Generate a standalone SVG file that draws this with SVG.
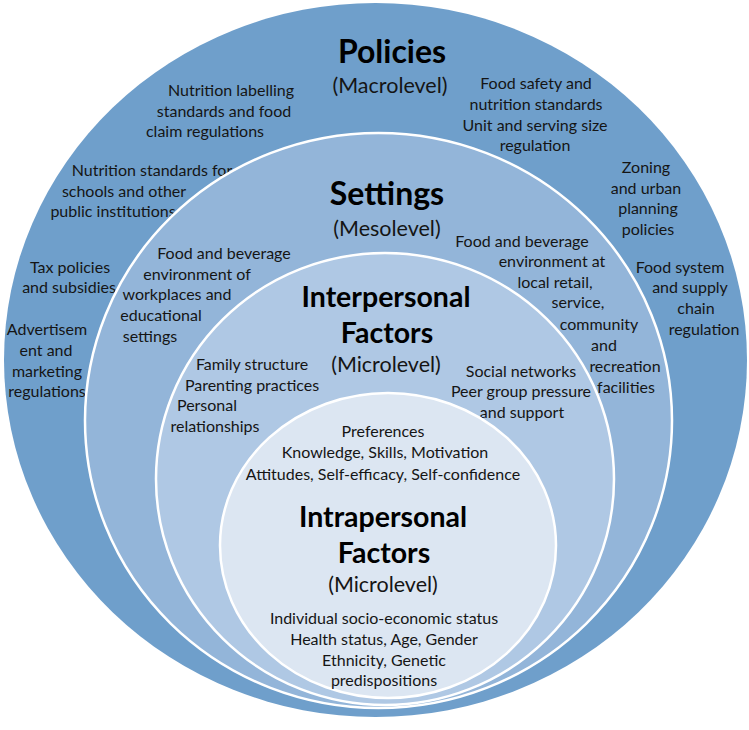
<svg xmlns="http://www.w3.org/2000/svg" width="749" height="730" viewBox="0 0 749 730">
<style>
.t{font-family:Lato,"Open Sans","Liberation Sans",sans-serif;font-size:16px;fill:#151515;text-anchor:middle}
.h{font-family:Lato,"Open Sans","Liberation Sans",sans-serif;font-weight:bold;fill:#000;text-anchor:middle}
.h1{font-size:32px}
.h2{font-size:28.5px}
.s{font-family:Lato,"Open Sans","Liberation Sans",sans-serif;font-size:21.5px;fill:#151515;text-anchor:middle}
.ring{stroke:#fff;stroke-width:2.5}
</style>
<rect width="749" height="730" fill="#fff"/>
<g id="policies">
<ellipse cx="375.5" cy="360" rx="371.5" ry="357" fill="#6f9fcb"/>
<text class="h h1" x="392" y="63">Policies</text>
<text class="s" x="390" y="93">(Macrolevel)</text>
<text class="t" x="231" y="96">Nutrition labelling</text>
<text class="t" x="224" y="117">standards and food</text>
<text class="t" x="205" y="137">claim regulations</text>
<text class="t" x="536" y="89">Food safety and</text>
<text class="t" x="536" y="110">nutrition standards</text>
<text class="t" x="535" y="131">Unit and serving size</text>
<text class="t" x="535" y="151">regulation</text>
<text class="t" x="152" y="176">Nutrition standards for</text>
<text class="t" x="124" y="197">schools and other</text>
<text class="t" x="113" y="217">public institutions</text>
<text class="t" x="646" y="173">Zoning</text>
<text class="t" x="646" y="194">and urban</text>
<text class="t" x="648" y="214">planning</text>
<text class="t" x="648" y="235">policies</text>
<text class="t" x="70" y="273">Tax policies</text>
<text class="t" x="69" y="293">and subsidies</text>
<text class="t" x="680" y="273">Food system</text>
<text class="t" x="690" y="293">and supply</text>
<text class="t" x="696" y="314">chain</text>
<text class="t" x="704" y="335">regulation</text>
<text class="t" x="47" y="335">Advertisem</text>
<text class="t" x="46" y="356">ent and</text>
<text class="t" x="47" y="377">marketing</text>
<text class="t" x="47" y="397">regulations</text>
</g>
<g id="settings">
<ellipse class="ring" cx="378.5" cy="420.5" rx="293.5" ry="287.5" fill="#93b5d9"/>
<text class="h h1" x="387" y="205">Settings</text>
<text class="s" x="387" y="236">(Mesolevel)</text>
<text class="t" x="224" y="259">Food and beverage</text>
<text class="t" x="197" y="280">environment of</text>
<text class="t" x="177" y="300">workplaces and</text>
<text class="t" x="161" y="321">educational</text>
<text class="t" x="150" y="342">settings</text>
<text class="t" x="522" y="247">Food and beverage</text>
<text class="t" x="552" y="267">environment at</text>
<text class="t" x="555" y="288">local retail,</text>
<text class="t" x="578" y="308">service,</text>
<text class="t" x="599" y="330">community</text>
<text class="t" x="604" y="351">and</text>
<text class="t" x="625" y="372">recreation</text>
<text class="t" x="626" y="393">facilities</text>
</g>
<g id="interpersonal">
<ellipse class="ring" cx="385" cy="479" rx="229" ry="226" fill="#afc8e4"/>
<text class="h h2" x="386" y="307">Interpersonal</text>
<text class="h h2" x="387" y="343">Factors</text>
<text class="s" x="386" y="372">(Microlevel)</text>
<text class="t" x="252" y="370">Family structure</text>
<text class="t" x="252" y="391">Parenting practices</text>
<text class="t" x="207" y="411">Personal</text>
<text class="t" x="215" y="432">relationships</text>
<text class="t" x="521" y="377">Social networks</text>
<text class="t" x="521" y="397">Peer group pressure</text>
<text class="t" x="522" y="418">and support</text>
</g>
<g id="intrapersonal">
<ellipse class="ring" cx="388" cy="545.5" rx="168" ry="152.5" fill="#dce6f2"/>
<text class="t" x="383" y="437">Preferences</text>
<text class="t" x="385" y="458">Knowledge, Skills, Motivation</text>
<text class="t" x="383" y="480">Attitudes, Self-efficacy, Self-confidence</text>
<text class="h h2" x="383" y="527">Intrapersonal</text>
<text class="h h2" x="384" y="563">Factors</text>
<text class="s" x="383" y="592">(Microlevel)</text>
<text class="t" x="384" y="624">Individual socio-economic status</text>
<text class="t" x="384" y="645">Health status, Age, Gender</text>
<text class="t" x="384" y="666">Ethnicity, Genetic</text>
<text class="t" x="384" y="686">predispositions</text>
</g>
</svg>
